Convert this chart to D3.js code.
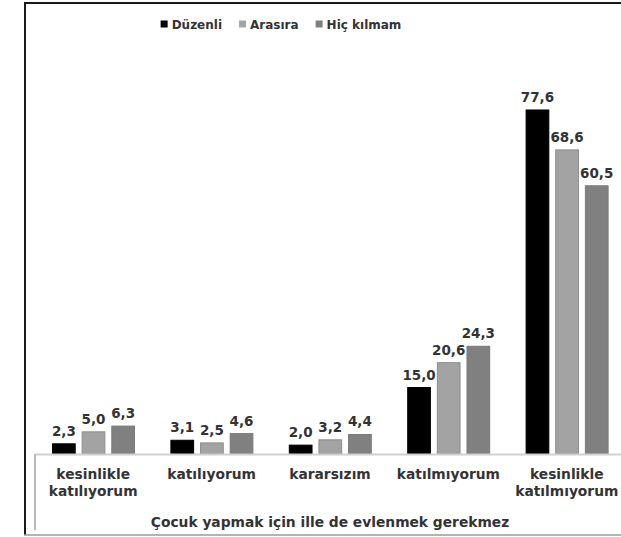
<!DOCTYPE html>
<html>
<head>
<meta charset="utf-8">
<script src="https://cdn.jsdelivr.net/npm/d3@7"></script>
<style>
  html, body { margin: 0; padding: 0; background: #fff; }
  svg { display: block; }
  text { font-family: "DejaVu Sans", "Open Sans", sans-serif; font-weight: 700; fill: #333; }
</style>
</head>
<body>
<svg id="chart" width="621" height="537"></svg>
<script>
const categories = ["kesinlikle katılıyorum", "katılıyorum", "kararsızım", "katılmıyorum", "kesinlikle katılmıyorum"];
const categoryLines = [["kesinlikle", "katılıyorum"], ["katılıyorum"], ["kararsızım"], ["katılmıyorum"], ["kesinlikle", "katılmıyorum"]];
const seriesNames = ["Düzenli", "Arasıra", "Hiç kılmam"];
const duzenli = [2.3, 3.1, 2.0, 15.0, 77.6];
const arasira = [5.0, 2.5, 3.2, 20.6, 68.6];
const hicKilmam = [6.3, 4.6, 4.4, 24.3, 60.5];
const axisTitle = "Çocuk yapmak için ille de evlenmek gerekmez";

const seriesValues = [duzenli, arasira, hicKilmam];
const fills = ["#000000", "#a3a3a3", "#808080"];
const strokes = ["#000000", "#8c8c8c", "#7a7a7a"];

const svg = d3.select("#chart");

// frame
svg.append("line").attr("x1", 25).attr("x2", 25).attr("y1", 2).attr("y2", 535).attr("stroke", "#1a1a1a").attr("stroke-width", 2);
svg.append("line").attr("x1", 24).attr("x2", 621).attr("y1", 3).attr("y2", 3).attr("stroke", "#1a1a1a").attr("stroke-width", 2);
svg.append("line").attr("x1", 24).attr("x2", 621).attr("y1", 535).attr("y2", 535).attr("stroke", "#9a9a9a").attr("stroke-width", 1.5);

const x = d3.scaleBand().domain(categories).range([34, 626]).padding(0);
const xi = d3.scaleBand().domain(seriesNames).range([18, 101]).paddingInner(0.2).paddingOuter(0);
const y = d3.scaleLinear().domain([0, 90]).range([454, 55]);

// bars
seriesNames.forEach((s, si) => {
  const g = svg.append("g");
  g.selectAll("rect").data(seriesValues[si]).join("rect")
    .attr("x", (d, i) => x(categories[i]) + xi(s) + 0.5)
    .attr("y", d => y(d))
    .attr("width", xi.bandwidth() - 1)
    .attr("height", d => y(0) - y(d))
    .attr("fill", fills[si])
    .attr("stroke", strokes[si])
    .attr("stroke-width", 1);
  g.selectAll("text").data(seriesValues[si]).join("text")
    .attr("x", (d, i) => x(categories[i]) + xi(s) + xi.bandwidth() / 2)
    .attr("y", d => y(d) - 8)
    .attr("text-anchor", "middle")
    .attr("font-size", 13.5)
    .text(d => d3.format(".1f")(d).replace(".", ","));
});

// axis line
svg.append("line").attr("x1", 35).attr("x2", 621).attr("y1", y(0) + 0.5).attr("y2", y(0) + 0.5).attr("stroke", "#d0d0d0").attr("stroke-width", 2);
svg.append("line").attr("x1", 35).attr("x2", 35).attr("y1", y(0)).attr("y2", 530).attr("stroke", "#b8b8b8").attr("stroke-width", 2);

// category labels
categories.forEach((c, i) => {
  const lines = categoryLines[i];
  const t = svg.append("text").attr("text-anchor", "middle").attr("font-size", 13.8);
  lines.forEach((ln, li) => {
    t.append("tspan").attr("x", x(c) + x.bandwidth() / 2).attr("y", 479 + li * 17).text(ln);
  });
});

svg.append("text").attr("x", (x.range()[0] + x.range()[1]) / 2).attr("y", 527)
  .attr("text-anchor", "middle").attr("font-size", 13.8).text(axisTitle);

// legend
const legend = svg.append("g");
let cx = 0;
seriesNames.forEach((s, si) => {
  const g = legend.append("g");
  g.append("rect").attr("x", cx).attr("y", 20.5).attr("width", 7).attr("height", 7).attr("fill", fills[si]);
  const t = g.append("text").attr("x", cx + 11).attr("y", 28.5).attr("font-size", 12).text(s);
  const w = t.node().getComputedTextLength();
  cx += 11 + w + 17;
});
const totalW = cx - 17;
legend.attr("transform", `translate(${281 - totalW / 2},0)`);
</script>
</body>
</html>
